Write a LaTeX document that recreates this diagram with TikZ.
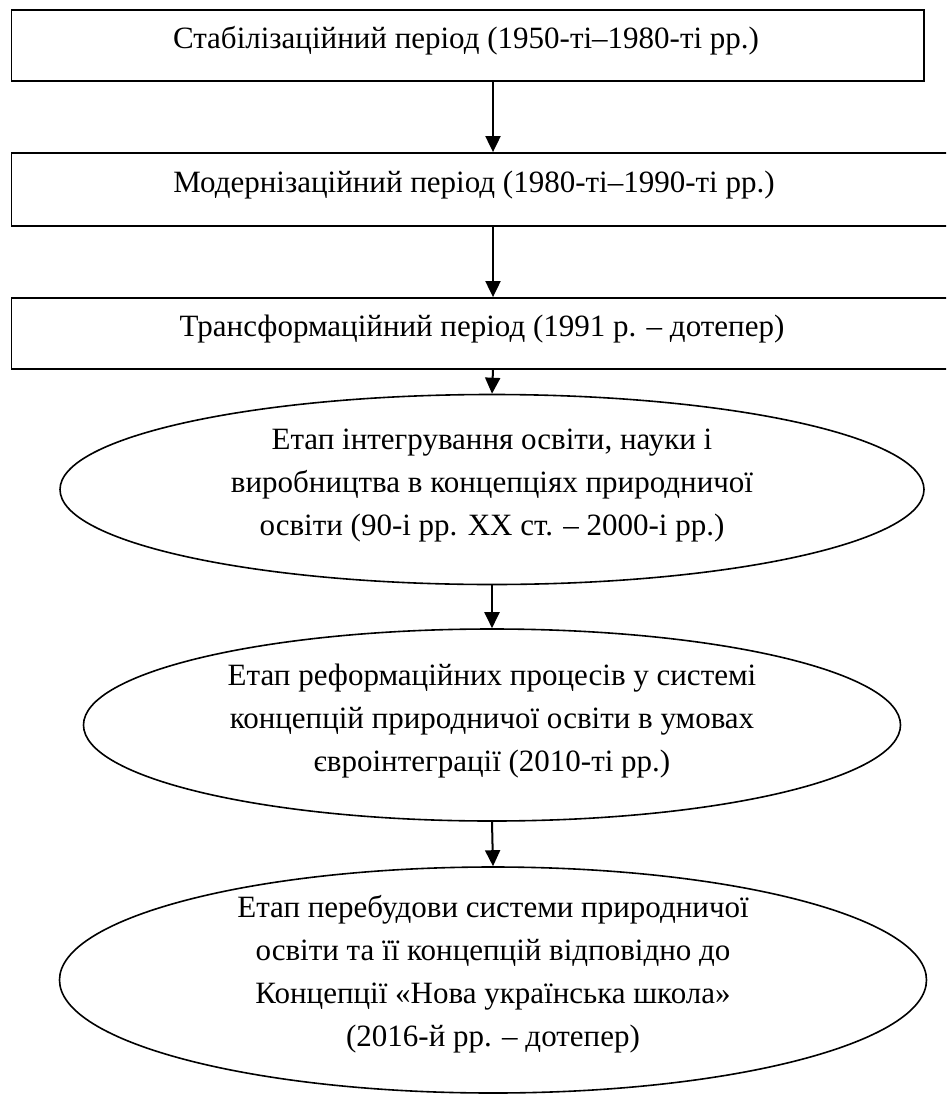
\documentclass[tikz,border=0pt]{standalone}
\usepackage{fontspec}
\setmainfont{Liberation Serif}
\usetikzlibrary{arrows.meta,shapes.geometric}
\tikzset{
  stagebox/.style={draw=black, line width=1.8pt, rectangle, inner sep=0pt},
  stageoval/.style={draw=black, line width=1.6pt, ellipse, inner sep=0pt},
  lbl/.style={align=center, inner sep=0pt, font=\fontsize{31}{43}\selectfont},
  flow/.style={line width=2pt, -{Triangle[length=16pt,width=15pt]}},
}
\begin{document}
\begin{tikzpicture}[x=1pt,y=-1pt]
\useasboundingbox (0,0) rectangle (946,1095);
\clip (0,0) rectangle (946,1095);
\coordinate (col) at (493,0);
% period boxes
\node[stagebox, minimum width=912.5pt, minimum height=71pt] (b1) at (467.75,45.5) {};
\node[stagebox, minimum width=944pt, minimum height=73pt] (b2) at (483.5,189.5) {};
\node[stagebox, minimum width=944pt, minimum height=71pt] (b3) at (483.5,333.5) {};
\node[lbl] (t1) at (466,41) {Стабілізаційний період (1950-ті–1980-ті рр.)};
\node[lbl] (t2) at (474,185) {Модернізаційний період (1980-ті–1990-ті рр.)};
\node[lbl] (t3) at (482,329) {Трансформаційний період (1991 р. – дотепер)};
% stage ellipses
\node[stageoval, minimum width=864pt, minimum height=190pt] (e1) at (492,489.5) {};
\node[stageoval, minimum width=817pt, minimum height=192pt] (e2) at (492,725) {};
\node[stageoval, minimum width=867pt, minimum height=226pt] (e3) at (493,980) {};
\node[lbl] (s1) at (492,486) {Етап інтегрування освіти, науки і\\виробництва в концепціях природничої\\освіти (90-і рр. XX ст. – 2000-і рр.)};
\node[lbl] (s2) at (492,721) {Етап реформаційних процесів у системі\\концепцій природничої освіти в умовах\\євроінтеграції (2010-ті рр.)};
\node[lbl] (s3) at (493,974) {Етап перебудови системи природничої\\освіти та її концепцій відповідно до\\Концепції «Нова українська школа»\\(2016-й рр. – дотепер)};
% connectors
\draw[flow] (b1.south -| col) -- (b2.north -| col);
\draw[flow] (b2.south -| col) -- (b3.north -| col);
\draw[flow] (b3.south -| col) -- (e1.north);
\draw[flow] (e1.south) -- (e2.north);
\draw[flow] (e2.south) -- (e3.north);
\end{tikzpicture}
\end{document}
